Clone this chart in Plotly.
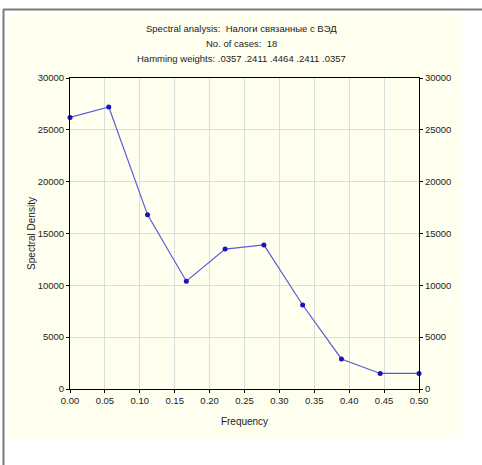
import plotly.graph_objects as go

freq = [0.0, 1/18, 2/18, 3/18, 4/18, 5/18, 6/18, 7/18, 8/18, 9/18]
density = [26200, 27200, 16800, 10400, 13500, 13900, 8100, 2900, 1500, 1500]
x_ticks = [0.0, 0.05, 0.10, 0.15, 0.20, 0.25, 0.30, 0.35, 0.40, 0.45, 0.50]
x_tick_labels = ["0.00", "0.05", "0.10", "0.15", "0.20", "0.25", "0.30", "0.35", "0.40", "0.45", "0.50"]
y_ticks = [0, 5000, 10000, 15000, 20000, 25000, 30000]
title_lines = [
    "Spectral analysis:  Налоги связанные с ВЭД",
    "No. of cases:  18",
    "Hamming weights: .0357 .2411 .4464 .2411 .0357",
]

W, H = 482, 465
L, R, T, B = 70, 419, 78, 389
pw, ph = R - L, B - T

def px(x):
    return (x - L) / pw

def py(y):
    return (B - y) / ph

FONT = "Liberation Sans, Arial, sans-serif"
TXT = "#222222"

fig = go.Figure()
fig.add_trace(go.Scatter(
    x=freq, y=density, mode="lines+markers",
    line=dict(color="#5a5ad6", width=1.2),
    marker=dict(color="#1515b8", size=5),
    showlegend=False, cliponaxis=False,
))
fig.add_trace(go.Scatter(x=[freq[0]], y=[density[0]], yaxis="y2", mode="markers",
                         marker=dict(opacity=0), showlegend=False, hoverinfo="skip"))

tickfont = dict(family=FONT, size=9.5, color=TXT)

fig.update_layout(
    width=W, height=H,
    margin=dict(l=L, r=W - R, t=T, b=H - B),
    paper_bgcolor="#ffffff", plot_bgcolor="#ffffff",
    xaxis=dict(range=[0, 0.5], tickvals=x_ticks, ticktext=x_tick_labels,
               title=dict(text="Frequency", font=dict(family=FONT, size=10, color=TXT), standoff=12),
               showline=True, linecolor="#000000", linewidth=1, mirror=True,
               ticks="outside", ticklen=3, tickcolor="#000000",
               showgrid=True, gridcolor="#dcdcdc", gridwidth=1, zeroline=False,
               tickfont=tickfont),
    yaxis=dict(range=[0, 30000], tickvals=y_ticks, ticktext=[str(v) for v in y_ticks],
               title=dict(text="Spectral Density", font=dict(family=FONT, size=10, color=TXT), standoff=0),
               showline=True, linecolor="#000000", linewidth=1,
               ticks="outside", ticklen=3, tickcolor="#000000",
               showgrid=True, gridcolor="#dcdcdc", gridwidth=1, zeroline=False,
               tickfont=tickfont),
    yaxis2=dict(range=[0, 30000], tickvals=y_ticks, ticktext=[str(v) for v in y_ticks],
                overlaying="y", side="right", showgrid=False, showline=True, linecolor="#000000",
                ticks="outside", ticklen=3, tickcolor="#000000", zeroline=False,
                tickfont=tickfont),
)

shapes = [
    dict(type="rect", xref="paper", yref="paper", layer="below",
         x0=px(10), x1=px(462), y0=py(438), y1=py(14),
         fillcolor="#fffff0", line=dict(width=0)),
    dict(type="line", xref="paper", yref="paper",
         x0=px(3), x1=px(482), y0=py(9.5), y1=py(9.5),
         line=dict(color="#7a7a7a", width=2)),
    dict(type="line", xref="paper", yref="paper",
         x0=px(3.5), x1=px(3.5), y0=py(9.5), y1=py(465),
         line=dict(color="#7a7a7a", width=2)),
]
fig.update_layout(shapes=shapes)

for line, ycen in zip(title_lines, [28, 43, 59]):
    fig.add_annotation(text=line, xref="paper", yref="paper", x=px(241), y=py(ycen),
                       showarrow=False, xanchor="center", yanchor="middle",
                       font=dict(family=FONT, size=9.5, color=TXT))

fig.write_html(
    "out.html",
    config={"displayModeBar": False},
    post_script="document.body.style.margin='0';document.body.style.overflow='hidden';",
)
